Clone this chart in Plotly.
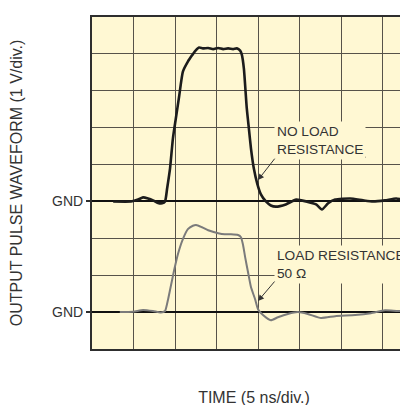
import plotly.graph_objects as go

# time in divisions (5 ns/div), amplitude in divisions (1 V/div)
t_noload = [0.51, 0.94, 1.11, 1.23, 1.35, 1.47, 1.59, 1.69, 1.76, 1.81, 1.88, 1.95, 2.02, 2.10, 2.19,
            2.31, 2.41, 2.48, 2.58, 2.67, 2.80, 2.92, 3.04, 3.16, 3.28, 3.40, 3.49, 3.57, 3.61, 3.66,
            3.73, 3.78, 3.83, 3.90, 3.98, 4.07, 4.19, 4.31, 4.43, 4.67, 4.92, 5.16, 5.40, 5.54, 5.69,
            5.86, 6.22, 6.53, 6.77, 7.06, 7.33, 7.57, 7.81]
v_noload = [4.00, 4.00, 4.05, 4.11, 4.08, 4.03, 3.96, 3.95, 4.00, 4.35, 4.89, 5.71, 6.25, 6.85, 7.52,
            7.79, 7.96, 8.07, 8.17, 8.15, 8.16, 8.13, 8.16, 8.13, 8.15, 8.13, 8.15, 8.09, 7.98, 7.60,
            6.52, 5.98, 5.44, 4.89, 4.49, 4.19, 4.00, 3.89, 3.86, 3.92, 4.05, 4.00, 3.92, 3.78, 3.95,
            4.05, 4.08, 4.03, 4.00, 4.03, 4.08, 4.03, 4.05]

t_load = [0.67, 0.99, 1.23, 1.47, 1.66, 1.76, 1.83, 1.88, 1.98, 2.07, 2.19, 2.31, 2.43, 2.51, 2.65,
          2.80, 3.04, 3.20, 3.35, 3.52, 3.59, 3.64, 3.69, 3.76, 3.83, 3.93, 4.00, 4.12, 4.31, 4.48,
          4.72, 4.96, 5.20, 5.52, 5.86, 6.34, 6.72, 7.06, 7.37, 7.81]
v_load = [1.00, 1.01, 1.06, 1.03, 0.99, 1.03, 1.33, 1.60, 2.14, 2.57, 2.98, 3.25, 3.34, 3.36, 3.30,
          3.22, 3.14, 3.11, 3.11, 3.09, 3.03, 2.82, 2.49, 2.08, 1.68, 1.35, 1.08, 0.92, 0.78, 0.86,
          0.95, 1.00, 0.95, 0.84, 0.89, 0.92, 0.97, 1.05, 1.03, 1.03]

gnd_levels = [1, 4]
gnd_labels = ["GND", "GND"]

BG = "#FFF8D3"
GRID = "#57534a"
TXT = "#333333"
FONT = "Liberation Sans, Arial, sans-serif"

fig = go.Figure()
fig.add_trace(go.Scatter(x=t_load, y=v_load, mode="lines",
                         line=dict(color="#7b7b7b", width=2, shape="spline", smoothing=0.5),
                         hoverinfo="skip", showlegend=False))
fig.add_trace(go.Scatter(x=t_noload, y=v_noload, mode="lines",
                         line=dict(color="#1c1c1c", width=2.6, shape="spline", smoothing=0.5),
                         hoverinfo="skip", showlegend=False))

fig.update_layout(
    width=408, height=405,
    margin=dict(l=84, r=0, t=9, b=64, autoexpand=False),
    paper_bgcolor="white", plot_bgcolor=BG,
    font=dict(family=FONT, size=14, color=TXT),
    showlegend=False,
)
fig.update_xaxes(range=[0, 324 / 41.5], tick0=0, dtick=1, showticklabels=False, ticks="",
                 showgrid=True, gridcolor=GRID, gridwidth=1.2, zeroline=False,
                 showline=True, linecolor="#2e2e2e", linewidth=2, mirror=True,
                 title=dict(text="TIME (5 ns/div.)", font=dict(size=16, color=TXT), standoff=42),
                 automargin=False)
fig.update_yaxes(range=[0, 9], tickmode="array", tickvals=gnd_levels, ticktext=gnd_labels,
                 ticks="outside", ticklen=4, tickcolor="#2e2e2e", tickwidth=1.5,
                 tickfont=dict(size=14, color=TXT),
                 showgrid=True, gridcolor="#111111", gridwidth=1.6, zeroline=False,
                 minor=dict(tickmode="linear", tick0=0, dtick=1, showgrid=True,
                            gridcolor=GRID, gridwidth=1.2, ticks=""),
                 showline=True, linecolor="#2e2e2e", linewidth=2, mirror=False,
                 title=dict(text="OUTPUT PULSE WAVEFORM (1 V/div.)", font=dict(size=16, color=TXT), standoff=27),
                 automargin=False)

# label boxes
fig.add_annotation(x=4.38, y=5.64, xref="x", yref="y", text="NO LOAD<br>RESISTANCE",
                   showarrow=False, xanchor="left", yanchor="middle", align="left",
                   bgcolor=BG, borderpad=2, font=dict(size=13.7, color=TXT))
fig.add_annotation(x=4.38, y=2.30, xref="x", yref="y", text="LOAD RESISTANCE<br>50 Ω",
                   showarrow=False, xanchor="left", yanchor="middle", align="left",
                   bgcolor=BG, borderpad=2, font=dict(size=13.7, color=TXT))

# leader lines
fig.add_shape(type="line", x0=4.43, x1=6.60, y0=5.20, y1=5.20, xref="x", yref="y",
              line=dict(color="#333333", width=1), layer="above")
fig.add_shape(type="line", x0=4.43, x1=7.66, y0=1.87, y1=1.87, xref="x", yref="y",
              line=dict(color="#333333", width=1), layer="above")

# arrows
fig.add_annotation(x=4.0, y=4.58, ax=4.43, ay=5.20, xref="x", yref="y", axref="x", ayref="y",
                   text="", showarrow=True, arrowhead=2, arrowsize=1.2, arrowwidth=1,
                   arrowcolor="#333333", standoff=0)
fig.add_annotation(x=4.0, y=1.30, ax=4.43, ay=1.87, xref="x", yref="y", axref="x", ayref="y",
                   text="", showarrow=True, arrowhead=2, arrowsize=1.2, arrowwidth=1,
                   arrowcolor="#333333", standoff=0)

fig.write_html("out.html")
